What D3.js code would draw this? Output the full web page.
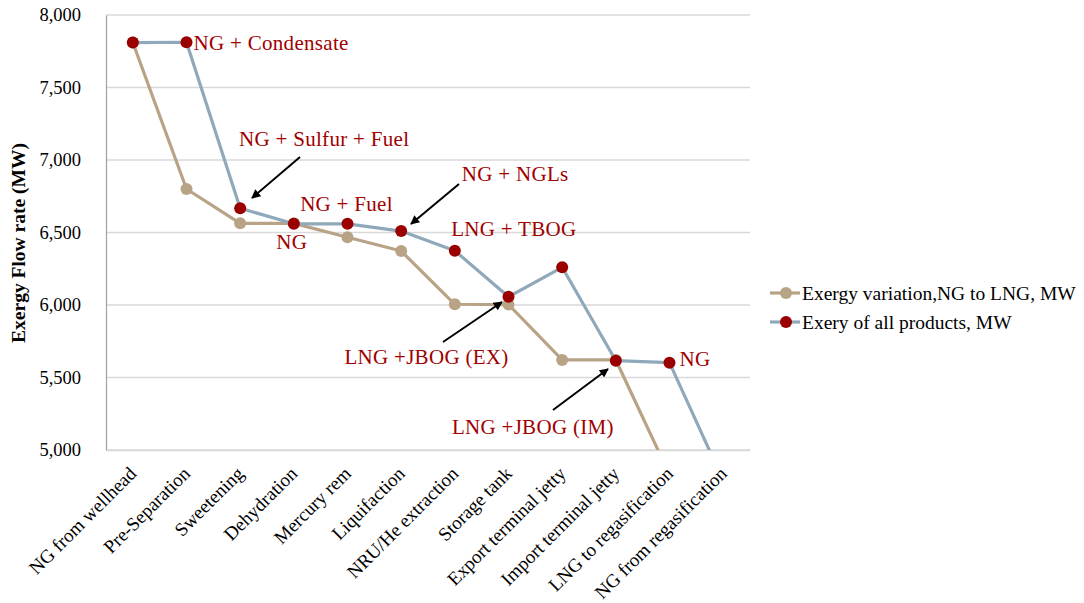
<!DOCTYPE html>
<html>
<head>
<meta charset="utf-8">
<script src="https://cdn.jsdelivr.net/npm/d3@7"></script>
<style>
  body { margin: 0; background: #fff; }
  svg { display: block; }
  text { font-family: "Liberation Serif", "Times New Roman", serif; }
</style>
</head>
<body>
<script>
const categories = ["NG from wellhead", "Pre-Separation", "Sweetening", "Dehydration", "Mercury rem",
  "Liquifaction", "NRU/He extraction", "Storage tank", "Export terminal jetty", "Import terminal jetty",
  "LNG to regasification", "NG from regasification"];
const exergyVariation = [7810, 6800, 6563, 6563, 6467, 6372, 6005, 6003, 5621, 5621, 4830, 4790];
const allProducts = [7810, 7812, 6667, 6560, 6560, 6510, 6374, 6057, 6260, 5616, 5602, 4790];
const yTicks = [5000, 5500, 6000, 6500, 7000, 7500, 8000];
const seriesNames = ["Exergy variation,NG to LNG, MW", "Exery of all products, MW"];
const annotationTexts = ["NG + Condensate", "NG + Sulfur + Fuel", "NG", "NG + Fuel", "NG + NGLs",
  "LNG + TBOG", "LNG +JBOG (EX)", "LNG +JBOG (IM)", "NG"];
const annotationIndex = [1, 2, 3, 4, 5, 6, 7, 9, 10];

const W = 1084, H = 603;
const margin = { left: 106, right: 334, top: 15, bottom: 153 };
const svg = d3.select("body").append("svg").attr("width", W).attr("height", H);

const x = d3.scaleBand().domain(categories).range([margin.left, W - margin.right]);
const y = d3.scaleLinear().domain([5000, 8000]).range([H - margin.bottom, margin.top]);
const cx = c => x(c) + x.bandwidth() / 2;

const tan = "#B9A387", blue = "#8FA9BB", red = "#9A0000", txtRed = "#A00000";

// gridlines
svg.append("g").selectAll("line").data(yTicks).join("line")
  .attr("x1", margin.left).attr("x2", W - margin.right)
  .attr("y1", d => y(d)).attr("y2", d => y(d))
  .attr("stroke", "#D9D9D9").attr("stroke-width", 1.3);

// y axis
const yAxis = d3.axisLeft(y).tickValues(yTicks).tickFormat(d3.format(",")).tickSize(0).tickPadding(25);
const gy = svg.append("g").attr("transform", `translate(${margin.left},0)`).call(yAxis);
gy.select(".domain").attr("stroke", "#A6A6A6").attr("stroke-width", 1.3);
gy.selectAll("text").attr("font-size", 18.5).attr("fill", "#000")
  .attr("font-family", "Liberation Serif, serif");

// x axis
const xAxis = d3.axisBottom(x).tickSize(0).tickPadding(0);
const gx = svg.append("g").attr("transform", `translate(0,${H - margin.bottom})`).call(xAxis);
gx.select(".domain").attr("stroke", "#D9D9D9").attr("stroke-width", 1.3);
gx.selectAll("text")
  .attr("font-size", 19).attr("fill", "#000").attr("font-family", "Liberation Serif, serif")
  .attr("text-anchor", "end").attr("dy", "0.35em")
  .attr("transform", "translate(0,20) rotate(-45)");

// clip
svg.append("clipPath").attr("id", "clip").append("rect")
  .attr("x", margin.left).attr("y", margin.top - 10)
  .attr("width", W - margin.right - margin.left).attr("height", H - margin.bottom - margin.top + 10);

const plot = svg.append("g").attr("clip-path", "url(#clip)");
const line = d3.line().x((d, i) => cx(categories[i])).y(d => y(d));

function drawSeries(values, lineColor, markerColor) {
  plot.append("path").datum(values).attr("d", line)
    .attr("fill", "none").attr("stroke", lineColor).attr("stroke-width", 3.2)
    .attr("stroke-linejoin", "round");
  plot.append("g").selectAll("circle").data(values).join("circle")
    .attr("cx", (d, i) => cx(categories[i])).attr("cy", d => y(d)).attr("r", 6)
    .attr("fill", markerColor);
}
drawSeries(exergyVariation, tan, tan);
drawSeries(allProducts, blue, red);

// annotations (offsets relative to the annotated point of the products series)
const annOffsets = [
  { dx: 7, dy: 8, anchor: "start" },
  { dx: 84, dy: -62, anchor: "middle", ax: [300, 157, 252, 198] },
  { dx: -2, dy: 25, anchor: "middle" },
  { dx: -1, dy: -13, anchor: "middle" },
  { dx: 114, dy: -50, anchor: "middle", ax: [459, 184, 411, 224] },
  { dx: 59, dy: -15, anchor: "middle" },
  { dx: -82, dy: 67, anchor: "middle", ax: [443, 342, 502, 302] },
  { dx: -83, dy: 73, anchor: "middle", ax: [553, 410, 608, 369] },
  { dx: 10, dy: 3, anchor: "start" }
];
const defs = svg.append("defs");
defs.append("marker").attr("id", "arr").attr("viewBox", "0 0 10 10")
  .attr("refX", 9).attr("refY", 5).attr("markerWidth", 5).attr("markerHeight", 4.5)
  .attr("orient", "auto").append("path").attr("d", "M0,0 L10,5 L0,10 z").attr("fill", "#000");

const ann = svg.append("g");
annotationTexts.forEach((t, k) => {
  const i = annotationIndex[k];
  const o = annOffsets[k];
  const px = cx(categories[i]), py = y(allProducts[i]);
  ann.append("text").attr("x", px + o.dx).attr("y", py + o.dy)
    .attr("text-anchor", o.anchor).attr("font-size", 21).attr("letter-spacing", 0.3)
    .attr("fill", txtRed).text(t);
  if (o.ax) {
    ann.append("line").attr("x1", o.ax[0]).attr("y1", o.ax[1]).attr("x2", o.ax[2]).attr("y2", o.ax[3])
      .attr("stroke", "#000").attr("stroke-width", 2).attr("marker-end", "url(#arr)");
  }
});

// y title
svg.append("text").attr("transform", `translate(25,243) rotate(-90)`)
  .attr("text-anchor", "middle").attr("font-size", 19.5).attr("font-weight", "bold").attr("fill", "#000")
  .text("Exergy Flow rate (MW)");

// legend
const leg = svg.append("g").attr("transform", "translate(770,293)");
[[tan, tan], [blue, red]].forEach((c, k) => {
  const g = leg.append("g").attr("transform", `translate(0,${k * 29})`);
  g.append("line").attr("x1", 0).attr("x2", 30).attr("stroke", c[0]).attr("stroke-width", 3.2);
  g.append("circle").attr("cx", 16).attr("r", 6).attr("fill", c[1]);
  g.append("text").attr("x", 32).attr("dy", "0.35em").attr("font-size", 19.5).attr("fill", "#000")
    .text(seriesNames[k]);
});
</script>
</body>
</html>
